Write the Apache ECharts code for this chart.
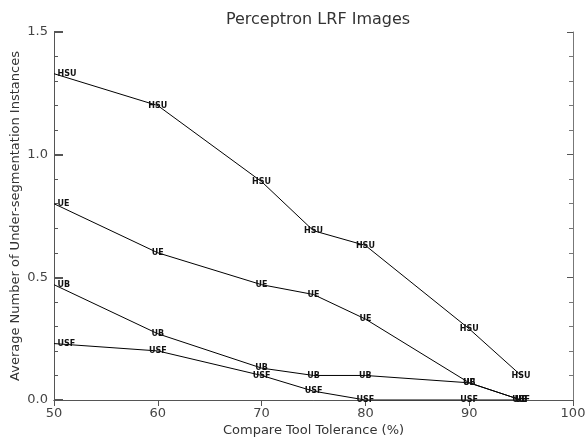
<!DOCTYPE html>
<html>
<head>
<meta charset="utf-8">
<script src="https://cdn.jsdelivr.net/npm/echarts@6/dist/echarts.min.js"></script>
<style>
  html, body { margin: 0; padding: 0; background: #fff; }
  #chart { width: 585px; height: 440px; }
</style>
</head>
<body>
<div id="chart"></div>
<script>
// tolerance values (%)
const tolerance = [50, 60, 70, 75, 80, 90, 95]
const hsu = [1.33, 1.2, 0.89, 0.69, 0.63, 0.29, 0.1]
const ue = [0.8, 0.6, 0.47, 0.43, 0.33, 0.07, 0]
const ub = [0.47, 0.27, 0.13, 0.1, 0.1, 0.07, 0]
const usf = [0.23, 0.2, 0.1, 0.036, 0, 0, 0]
const seriesNames = ['HSU', 'UE', 'UB', 'USF']
const xTicks = [50, 60, 70, 80, 90, 100]
const yTicks = [0, 0.5, 1.0, 1.5]

const chart = echarts.init(document.getElementById('chart'))
const font = 'DejaVu Sans'

function makeSeries (name, values) {
  return {
    name: name,
    type: 'line',
    data: tolerance.map((t, i) => {
      const item = { value: [t, values[i]] }
      // labels at the left edge start just right of the point
      if (i === 0) item.label = { position: 'right', distance: 3 }
      return item
    }),
    symbol: 'circle',
    symbolSize: 1,
    showSymbol: true,
    itemStyle: { color: 'rgba(0,0,0,0)' },
    lineStyle: { color: '#000', width: 1 },
    label: {
      show: true,
      position: 'inside',
      formatter: name,
      fontFamily: font,
      fontSize: 8,
      fontWeight: 'bold',
      color: '#111',
      textBorderWidth: 0
    },
    labelLayout: { hideOverlap: false },
    silent: true,
    animation: false
  }
}

const option = {
  backgroundColor: '#fff',
  animation: false,
  title: {
    text: 'Perceptron LRF Images',
    left: 313,
    textAlign: 'center',
    top: 7,
    textStyle: { fontFamily: font, fontSize: 16, fontWeight: 'normal', color: '#333' }
  },
  grid: { left: 54, right: 12, top: 32, bottom: 40, outerBoundsMode: 'none', containLabel: false },
  xAxis: [
    {
      type: 'value',
      min: 50,
      max: 100,
      interval: 10,
      position: 'bottom',
      name: 'Compare Tool Tolerance (%)',
      nameLocation: 'middle',
      nameGap: 24,
      nameMoveOverlap: false,
      nameTextStyle: { fontFamily: font, fontSize: 13, color: '#333' },
      axisLine: { lineStyle: { color: '#555', width: 1 } },
      axisTick: { show: false },
      splitLine: { show: false },
      axisLabel: {
        fontFamily: font, fontSize: 13, color: '#444', margin: 7,
        formatter: v => (xTicks.includes(v) ? String(v) : '')
      }
    },
    {
      type: 'value',
      min: 50,
      max: 100,
      interval: 10,
      position: 'top',
      axisLine: { lineStyle: { color: '#555', width: 1 } },
      axisTick: { show: true, inside: true, length: 6, lineStyle: { color: '#555' } },
      axisLabel: { show: false },
      splitLine: { show: false }
    }
  ],
  yAxis: [
    {
      type: 'value',
      min: 0,
      max: 1.5,
      interval: 0.5,
      name: 'Average Number of Under-segmentation Instances',
      nameLocation: 'middle',
      nameGap: 32,
      nameMoveOverlap: false,
      nameTextStyle: { fontFamily: font, fontSize: 13, color: '#333' },
      axisLine: { show: true, lineStyle: { color: '#555', width: 1 } },
      axisTick: { show: true, inside: true, length: 9, lineStyle: { color: '#555', width: 2 } },
      minorTick: { show: true, splitNumber: 5, length: 4, lineStyle: { color: '#555' } },
      splitLine: { show: false },
      axisLabel: {
        fontFamily: font, fontSize: 13, color: '#444', margin: 6,
        formatter: v => (yTicks.includes(v) ? v.toFixed(1) : '')
      }
    },
    {
      type: 'value',
      min: 0,
      max: 1.5,
      interval: 0.5,
      position: 'right',
      axisLine: { show: true, lineStyle: { color: '#777', width: 1 } },
      axisTick: { show: true, inside: true, length: 6, lineStyle: { color: '#555' } },
      minorTick: { show: true, splitNumber: 5, length: 4, lineStyle: { color: '#777' } },
      axisLabel: { show: false },
      splitLine: { show: false }
    }
  ],
  series: [
    makeSeries(seriesNames[0], hsu),
    makeSeries(seriesNames[1], ue),
    makeSeries(seriesNames[2], ub),
    makeSeries(seriesNames[3], usf)
  ]
}

chart.setOption(option)
</script>
</body>
</html>
